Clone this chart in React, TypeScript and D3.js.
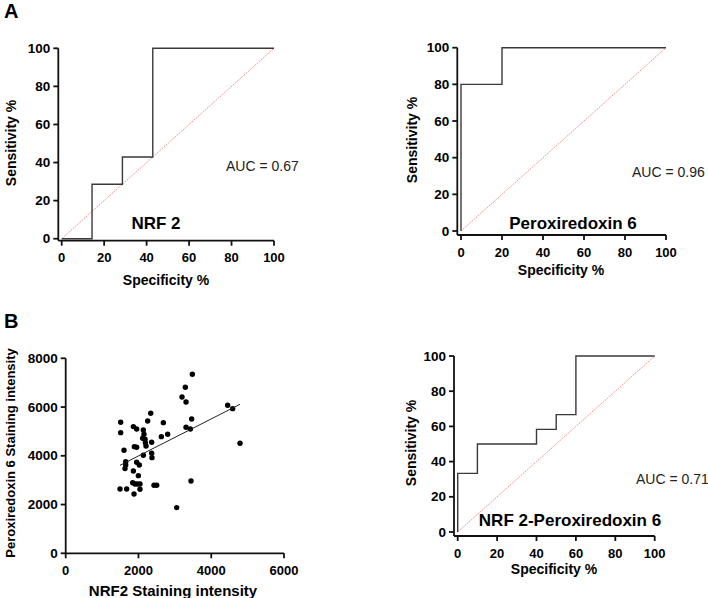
import { useEffect, useRef } from 'react';
import * as d3 from 'd3';

const rocTicks = [0, 20, 40, 60, 80, 100];

// ROC steps: x = 100 - specificity, y = sensitivity (step-after)
const nrf2Spec = [0, 14.3, 28.6, 42.9, 100];
const nrf2Sens = [0, 28.6, 42.9, 100, 100];

const prdx6Spec = [0, 0, 20, 100];
const prdx6Sens = [0, 80, 100, 100];

const comboSpec = [0, 0, 10, 40, 50, 60, 100];
const comboSens = [0, 33.3, 50, 58.3, 66.7, 100, 100];

// scatter: NRF2 vs Peroxiredoxin 6 staining intensity
const nrf2Intensity = [
  1511, 1511, 1493, 1603, 1649, 1649, 1630, 1676, 1860, 1951, 1887, 1951, 1951, 2024, 1860, 1997, 1841,
  1905, 1969, 2042, 1878, 2042, 2134, 2152, 2116, 2180, 2189, 2208, 2134, 2253, 2336, 2363, 2363, 2372,
  2427, 2501, 2684, 2629, 2803, 3050, 3197, 3288, 3307, 3481, 3462, 3307, 3426, 3444, 4452, 4589, 4791,
];
const prdx6Intensity = [
  5374, 4950, 2639, 4226, 3761, 3624, 3474, 2639, 5197, 5101, 4376, 4349, 3733, 3624, 3378, 3186, 2899,
  2844, 2844, 2844, 2434, 2626, 5060, 4882, 4718, 4677, 4540, 4403, 4021, 5429, 5744, 4554, 4103, 3925,
  2790, 2790, 5361, 4786, 4882, 1874, 6414, 6810, 6208, 7344, 5511, 5169, 5101, 2968, 6072, 5935, 4513,
];
const fitSlope = 0.759;
const fitIntercept = 2477;
const scatterXTicks = [0, 2000, 4000, 6000];
const scatterYTicks = [0, 2000, 4000, 6000, 8000];

const FONT = "'Liberation Sans', Arial, sans-serif";

type Roc = {
  name: string;
  auc: string;
  spec: number[];
  sens: number[];
  xr: [number, number];
  yr: [number, number];
  axisX: number;
  axisY: number;
  namePos: [number, number];
  aucPos: [number, number];
  xTitle: [number, number];
  yTitle: [number, number];
};

const rocPanels: Roc[] = [
  {
    name: 'NRF 2', auc: 'AUC = 0.67', spec: nrf2Spec, sens: nrf2Sens,
    xr: [61.7, 274], yr: [238.7, 48.3], axisX: 58.3, axisY: 240.7,
    namePos: [156, 223], aucPos: [226, 166], xTitle: [166, 280], yTitle: [11, 143],
  },
  {
    name: 'Peroxiredoxin 6', auc: 'AUC = 0.96', spec: prdx6Spec, sens: prdx6Sens,
    xr: [461, 666], yr: [231, 47.7], axisX: 457.3, axisY: 235,
    namePos: [573, 223], aucPos: [632, 172], xTitle: [561, 270], yTitle: [411.7, 140],
  },
  {
    name: 'NRF 2-Peroxiredoxin 6', auc: 'AUC = 0.71', spec: comboSpec, sens: comboSens,
    xr: [457.7, 654.7], yr: [532, 356], axisX: 454, axisY: 536,
    namePos: [570, 520], aucPos: [636, 479], xTitle: [554, 569], yTitle: [410.7, 443],
  },
];

const drawAxes = (
  g: d3.Selection<SVGGElement, unknown, null, undefined>,
  x: d3.ScaleLinear<number, number>,
  y: d3.ScaleLinear<number, number>,
  xTicks: number[],
  yTicks: number[],
  axisX: number,
  axisY: number,
) => {
  const yTop = y.range()[1];
  const xEnd = x.range()[1];
  g.append('line').attr('x1', axisX).attr('x2', axisX).attr('y1', yTop).attr('y2', axisY)
    .attr('stroke', '#111').attr('stroke-width', 1.8);
  g.append('line').attr('x1', axisX).attr('x2', xEnd).attr('y1', axisY).attr('y2', axisY)
    .attr('stroke', '#111').attr('stroke-width', 1.8);

  yTicks.forEach(t => {
    g.append('line').attr('x1', axisX - 5).attr('x2', axisX).attr('y1', y(t)).attr('y2', y(t))
      .attr('stroke', '#111').attr('stroke-width', 1.8);
    g.append('text').attr('x', axisX - 8).attr('y', y(t)).attr('text-anchor', 'end')
      .attr('dominant-baseline', 'central').style('font', `bold 13.5px ${FONT}`).text(t);
  });
  xTicks.forEach(t => {
    g.append('line').attr('x1', x(t)).attr('x2', x(t)).attr('y1', axisY).attr('y2', axisY + 5)
      .attr('stroke', '#111').attr('stroke-width', 1.8);
    g.append('text').attr('x', x(t)).attr('y', axisY + 17).attr('text-anchor', 'middle')
      .attr('dominant-baseline', 'central').style('font', `bold 13px ${FONT}`).text(t);
  });
};

const App = () => {
  const svgRef = useRef<SVGSVGElement>(null);

  useEffect(() => {
    if (!svgRef.current) return;
    const svg = d3.select(svgRef.current);
    svg.selectAll('*').remove();

    // panel letters
    svg.append('text').attr('x', 4).attr('y', 18).style('font', `bold 20px ${FONT}`).text('A');
    svg.append('text').attr('x', 4).attr('y', 328).style('font', `bold 20px ${FONT}`).text('B');

    rocPanels.forEach(p => {
      const g = svg.append('g');
      const x = d3.scaleLinear().domain([0, 100]).range(p.xr);
      const y = d3.scaleLinear().domain([0, 100]).range(p.yr);

      // chance line
      g.append('line').attr('x1', x(0)).attr('y1', y(0)).attr('x2', x(100)).attr('y2', y(100))
        .attr('stroke', '#f47f7f').attr('stroke-width', 0.9).attr('stroke-dasharray', '1.5,1');

      const pts = p.spec.map((s, i) => [s, p.sens[i]] as [number, number]);
      const line = d3.line<[number, number]>()
        .x(d => x(d[0]))
        .y(d => y(d[1]))
        .curve(d3.curveStepAfter);
      g.append('path').datum(pts).attr('d', line).attr('fill', 'none')
        .attr('stroke', '#3a3a3a').attr('stroke-width', 1.4);

      drawAxes(g, x, y, rocTicks, rocTicks, p.axisX, p.axisY);

      g.append('text').attr('x', p.xTitle[0]).attr('y', p.xTitle[1]).attr('text-anchor', 'middle')
        .attr('dominant-baseline', 'central').style('font', `bold 14px ${FONT}`).text('Specificity %');
      g.append('text').attr('transform', `translate(${p.yTitle[0]},${p.yTitle[1]}) rotate(-90)`)
        .attr('text-anchor', 'middle').attr('dominant-baseline', 'central')
        .style('font', `bold 14px ${FONT}`).text('Sensitivity %');
      g.append('text').attr('x', p.namePos[0]).attr('y', p.namePos[1]).attr('text-anchor', 'middle')
        .attr('dominant-baseline', 'central').style('font', `bold 17px ${FONT}`).text(p.name);
      g.append('text').attr('x', p.aucPos[0]).attr('y', p.aucPos[1])
        .attr('dominant-baseline', 'central').style('font', `14px ${FONT}`).attr('fill', '#222').text(p.auc);
    });

    // scatter panel
    const sg = svg.append('g');
    const sx = d3.scaleLinear().domain([0, 6000]).range([65.7, 284]);
    const sy = d3.scaleLinear().domain([0, 8000]).range([553.3, 358.3]);
    drawAxes(sg, sx, sy, scatterXTicks, scatterYTicks, sx(0), sy(0));

    sg.selectAll('.dot')
      .data(nrf2Intensity.map((v, i) => [v, prdx6Intensity[i]]))
      .enter()
      .append('circle')
      .attr('class', 'dot')
      .attr('cx', d => sx(d[0]))
      .attr('cy', d => sy(d[1]))
      .attr('r', 2.7)
      .attr('fill', '#000');

    const [xMin, xMax] = d3.extent(nrf2Intensity) as [number, number];
    sg.append('line')
      .attr('x1', sx(xMin)).attr('y1', sy(fitIntercept + fitSlope * xMin))
      .attr('x2', sx(xMax)).attr('y2', sy(fitIntercept + fitSlope * xMax))
      .attr('stroke', '#222').attr('stroke-width', 1);

    sg.append('text').attr('x', 173).attr('y', 590).attr('text-anchor', 'middle')
      .attr('dominant-baseline', 'central').style('font', `bold 15px ${FONT}`).text('NRF2 Staining intensity');
    sg.append('text').attr('transform', 'translate(10,453) rotate(-90)')
      .attr('text-anchor', 'middle').attr('dominant-baseline', 'central')
      .style('font', `bold 13px ${FONT}`).text('Peroxiredoxin 6 Staining intensity');
  }, []);

  return (
    <svg ref={svgRef} width={708} height={598}
      style={{ position: 'absolute', left: 0, top: 0, background: '#fff' }} />
  );
};

export default App;
